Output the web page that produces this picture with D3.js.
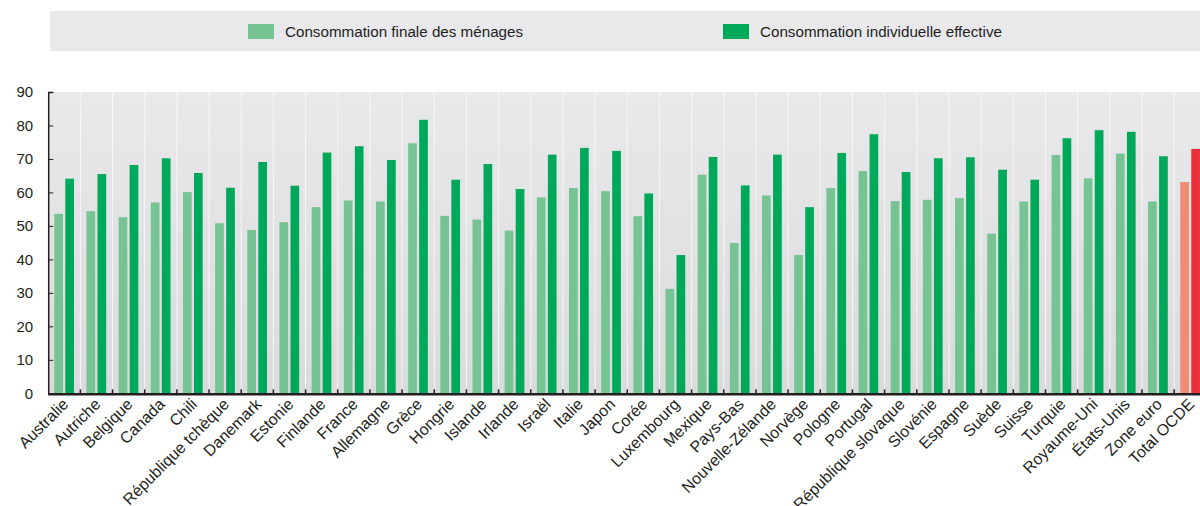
<!DOCTYPE html>
<html>
<head>
<meta charset="utf-8">
<script src="https://cdn.jsdelivr.net/npm/d3@7"></script>
<style>
  body { margin: 0; background: #fff; }
  text { font-family: "Liberation Sans", Arial, sans-serif; fill: #231f20; }
</style>
</head>
<body>
<div id="chart"></div>
<script>
// categories and values
var countries = ["Australie", "Autriche", "Belgique", "Canada", "Chili", "République tchèque",
  "Danemark", "Estonie", "Finlande", "France", "Allemagne", "Grèce", "Hongrie", "Islande",
  "Irlande", "Israël", "Italie", "Japon", "Corée", "Luxembourg", "Mexique", "Pays-Bas",
  "Nouvelle-Zélande", "Norvège", "Pologne", "Portugal", "République slovaque", "Slovénie",
  "Espagne", "Suède", "Suisse", "Turquie", "Royaume-Uni", "États-Unis", "Zone euro", "Total OCDE"];

var menages = [53.6, 54.4, 52.6, 57.0, 60.1, 50.8, 48.8, 51.1, 55.6, 57.6, 57.3, 74.7, 53.0, 51.9,
  48.6, 58.5, 61.3, 60.4, 52.9, 31.2, 65.3, 44.9, 59.1, 41.3, 61.3, 66.4, 57.4, 57.8,
  58.3, 47.7, 57.3, 71.2, 64.2, 71.6, 57.3, 63.1];

var effective = [64.1, 65.5, 68.2, 70.2, 65.8, 61.4, 69.1, 62.0, 71.9, 73.8, 69.7, 81.7, 63.8, 68.5,
  61.0, 71.3, 73.3, 72.4, 59.7, 41.3, 70.6, 62.1, 71.3, 55.6, 71.8, 77.4, 66.1, 70.2,
  70.5, 66.8, 63.8, 76.2, 78.6, 78.1, 70.8, 73.0];

var seriesNames = ["Consommation finale des ménages", "Consommation individuelle effective"];
var yTicks = [0, 10, 20, 30, 40, 50, 60, 70, 80, 90];

var width = 1200, height = 506;
var plotLeft = 48.2, plotTop = 92, plotBottom = 393.3;
var step = 32.17;

var svg = d3.select("#chart").append("svg")
  .attr("width", width)
  .attr("height", height);

// legend band
var legend = svg.append("g");
legend.append("rect")
  .attr("x", 50).attr("y", 11).attr("width", 1150).attr("height", 40)
  .attr("fill", "#e9e9ec");
var legendItems = [
  {name: seriesNames[0], color: "#76c393", x: 248},
  {name: seriesNames[1], color: "#00a85a", x: 723}
];
legendItems.forEach(function(d) {
  legend.append("rect")
    .attr("x", d.x).attr("y", 24).attr("width", 26).attr("height", 15)
    .attr("fill", d.color);
  legend.append("text")
    .attr("x", d.x + 37).attr("y", 37)
    .attr("font-size", "15.2px")
    .text(d.name);
});

var x = d3.scaleBand()
  .domain(countries)
  .range([plotLeft, plotLeft + step * countries.length])
  .paddingInner(0).paddingOuter(0);

var x1 = d3.scaleBand()
  .domain([0, 1])
  .range([6.1, 25.8])
  .paddingInner(0.21);

var y = d3.scaleLinear().domain([0, 90]).range([plotBottom, plotTop]);

// plot background gradient
var defs = svg.append("defs");
var grad = defs.append("linearGradient")
  .attr("id", "bg").attr("x1", 0).attr("y1", 0).attr("x2", 0).attr("y2", 1);
grad.append("stop").attr("offset", "0%").attr("stop-color", "#e9e9eb");
grad.append("stop").attr("offset", "100%").attr("stop-color", "#dadbdd");

svg.append("rect")
  .attr("x", plotLeft).attr("y", plotTop)
  .attr("width", width - plotLeft).attr("height", plotBottom - plotTop)
  .attr("fill", "url(#bg)");

// vertical white separators
svg.append("g").selectAll("line")
  .data(countries.slice(1))
  .enter().append("line")
  .attr("x1", function(d) { return x(d); })
  .attr("x2", function(d) { return x(d); })
  .attr("y1", plotTop).attr("y2", plotBottom)
  .attr("stroke", "#f7f7f8").attr("stroke-width", 1);

// bars
var colors = function(i, j) {
  if (countries[i] === "Total OCDE") return j === 0 ? "#f28b74" : "#e8303a";
  return j === 0 ? "#76c393" : "#00a85a";
};

var groups = svg.append("g").selectAll("g")
  .data(countries)
  .enter().append("g")
  .attr("transform", function(d) { return "translate(" + x(d) + ",0)"; });

groups.selectAll("rect")
  .data(function(d, i) {
    return [{i: i, j: 0, v: menages[i]}, {i: i, j: 1, v: effective[i]}];
  })
  .enter().append("rect")
  .attr("x", function(d) { return x1(d.j); })
  .attr("width", x1.bandwidth())
  .attr("y", function(d) { return y(d.v); })
  .attr("height", function(d) { return plotBottom - y(d.v); })
  .attr("fill", function(d) { return colors(d.i, d.j); });

// y axis
var yAxis = d3.axisLeft(y).tickValues(yTicks).tickSize(-5).tickPadding(15);
var ya = svg.append("g")
  .attr("transform", "translate(" + plotLeft + ",0)")
  .call(yAxis);
ya.select(".domain").attr("stroke", "#231f20").attr("stroke-width", 1.5);
ya.selectAll(".tick line").attr("stroke", "#231f20");
ya.selectAll(".tick text")
  .attr("font-size", "15px")
  .attr("font-family", "Liberation Sans, Arial, sans-serif")
  .attr("fill", "#231f20");

// x axis
svg.append("line")
  .attr("x1", plotLeft).attr("x2", width)
  .attr("y1", plotBottom + 1).attr("y2", plotBottom + 1)
  .attr("stroke", "#231f20").attr("stroke-width", 2.5);

svg.append("g").selectAll("line")
  .data(countries.slice(1))
  .enter().append("line")
  .attr("x1", function(d) { return x(d); })
  .attr("x2", function(d) { return x(d); })
  .attr("y1", plotBottom - 4).attr("y2", plotBottom)
  .attr("stroke", "#231f20").attr("stroke-width", 1.5);

svg.append("g").selectAll("text")
  .data(countries)
  .enter().append("text")
  .attr("transform", function(d) {
    return "translate(" + (x(d) + x.bandwidth() / 2 + 5) + "," + (plotBottom + 12) + ") rotate(-45)";
  })
  .attr("text-anchor", "end")
  .attr("font-size", "16px")
  .text(function(d) { return d; });
</script>
</body>
</html>
